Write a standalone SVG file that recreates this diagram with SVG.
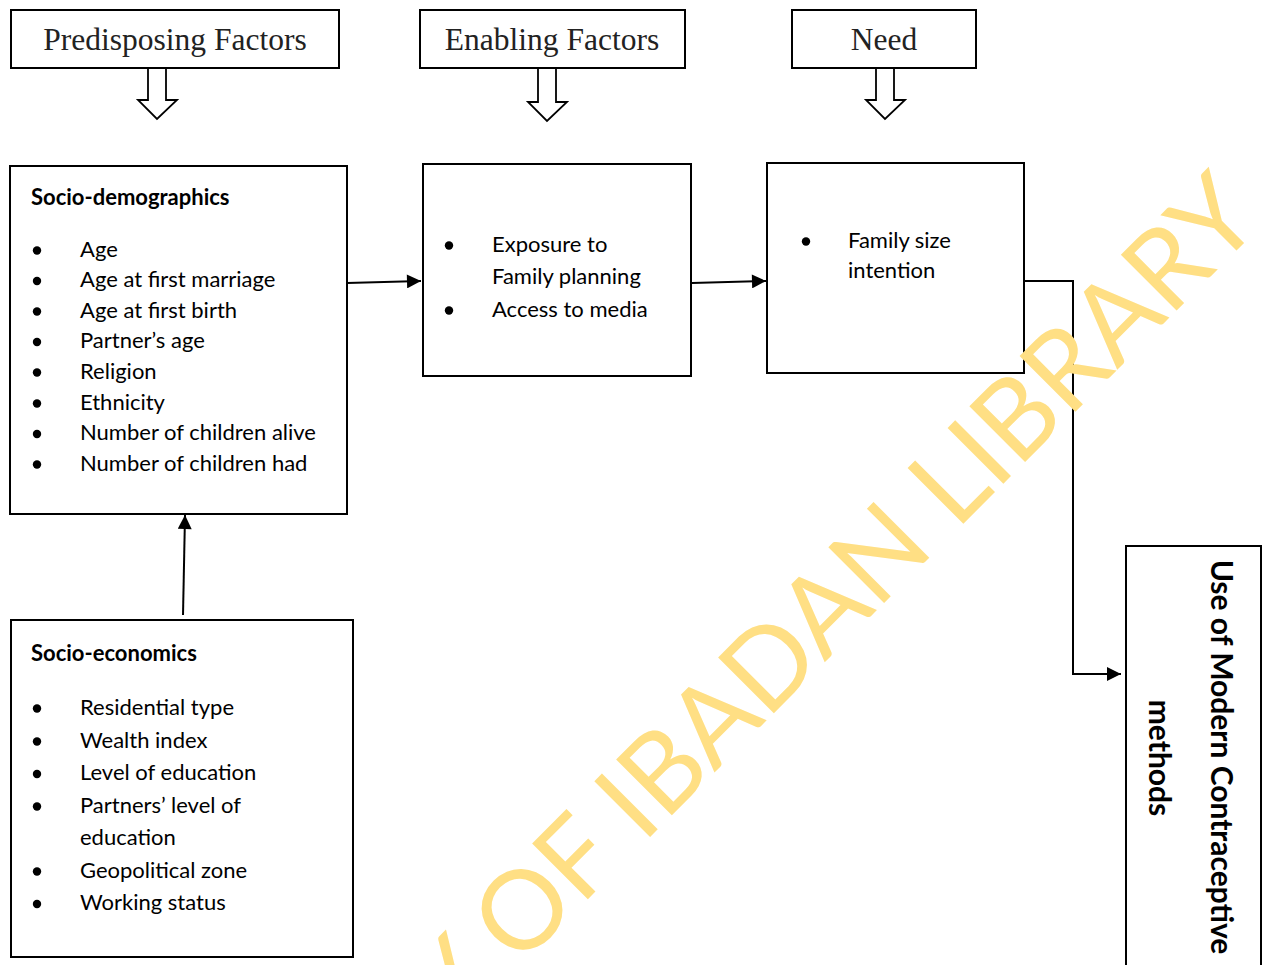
<svg xmlns="http://www.w3.org/2000/svg" width="1262" height="965" viewBox="0 0 1262 965">
<defs>
<style>
.box{fill:#fff;stroke:#000;stroke-width:2}
.hollow{fill:#fff;stroke:#000;stroke-width:1.8;stroke-linejoin:miter}
.title{font-family:"Liberation Serif","Times New Roman",serif;font-size:31.5px;fill:#222;text-anchor:middle}
.t{font-family:Lato,"Open Sans",sans-serif;font-size:22px;fill:#000}
.b{font-family:Lato,"Open Sans",sans-serif;font-size:22px;font-weight:bold;fill:#000}
.rot{font-family:Lato,"Open Sans",sans-serif;font-size:30px;font-weight:bold;fill:#000;text-anchor:middle}
.dot{fill:#000}
.conn{fill:none;stroke:#000;stroke-width:2}
.wm{font-family:Lato,"Open Sans",sans-serif;font-size:110px;fill:#FFDF84}
</style>
<marker id="ah" viewBox="0 0 10 10" refX="10" refY="5" markerWidth="8" markerHeight="7" markerUnits="strokeWidth" orient="auto">
<path d="M0,0 L10,5 L0,10 Z" fill="#000"/>
</marker>
</defs>
<rect width="1262" height="965" fill="#fff"/>

<g id="predisposing">
<rect class="box" x="11" y="10" width="328" height="58"/>
<text class="title" x="175" y="50">Predisposing Factors</text>
<polygon class="hollow" points="148,68 166,68 166,100 177,100 157,119 138,100 148,100"/>
</g>

<g id="enabling">
<rect class="box" x="420" y="10" width="265" height="58"/>
<text class="title" x="552" y="50">Enabling Factors</text>
<polygon class="hollow" points="538,68 556,68 556,102 567,102 547,121 528,102 538,102"/>
</g>

<g id="need">
<rect class="box" x="792" y="10" width="184" height="58"/>
<text class="title" x="884" y="50">Need</text>
<polygon class="hollow" points="876,68 894,68 894,100 905,100 885,119 866,100 876,100"/>
</g>

<g id="socio-demographics">
<rect class="box" x="10" y="166" width="337" height="348"/>
<text class="b" x="31" y="205">Socio-demographics</text>
<circle class="dot" cx="37" cy="250.5" r="4.2"/><text class="t" x="80" y="257">Age</text>
<circle class="dot" cx="37" cy="281" r="4.2"/><text class="t" x="80" y="287">Age at first marriage</text>
<circle class="dot" cx="37" cy="311.5" r="4.2"/><text class="t" x="80" y="318">Age at first birth</text>
<circle class="dot" cx="37" cy="342" r="4.2"/><text class="t" x="80" y="348">Partner’s age</text>
<circle class="dot" cx="37" cy="372.5" r="4.2"/><text class="t" x="80" y="379">Religion</text>
<circle class="dot" cx="37" cy="403.5" r="4.2"/><text class="t" x="80" y="410">Ethnicity</text>
<circle class="dot" cx="37" cy="434" r="4.2"/><text class="t" x="80" y="440">Number of children alive</text>
<circle class="dot" cx="37" cy="464.5" r="4.2"/><text class="t" x="80" y="471">Number of children had</text>
</g>

<g id="socio-economics">
<rect class="box" x="11" y="620" width="342" height="337"/>
<text class="b" x="31" y="661">Socio-economics</text>
<circle class="dot" cx="37" cy="708.5" r="4.2"/><text class="t" x="80" y="715">Residential type</text>
<circle class="dot" cx="37" cy="741.5" r="4.2"/><text class="t" x="80" y="748">Wealth index</text>
<circle class="dot" cx="37" cy="774" r="4.2"/><text class="t" x="80" y="780">Level of education</text>
<circle class="dot" cx="37" cy="806.5" r="4.2"/><text class="t" x="80" y="813">Partners’ level of</text>
<text class="t" x="80" y="845">education</text>
<circle class="dot" cx="37" cy="871.5" r="4.2"/><text class="t" x="80" y="878">Geopolitical zone</text>
<circle class="dot" cx="37" cy="904" r="4.2"/><text class="t" x="80" y="910">Working status</text>
</g>

<g id="enabling-box">
<rect class="box" x="423" y="164" width="268" height="212"/>
<circle class="dot" cx="449" cy="245.5" r="4.2"/><text class="t" x="492" y="252">Exposure to</text>
<text class="t" x="492" y="284">Family planning</text>
<circle class="dot" cx="449" cy="310.5" r="4.2"/><text class="t" x="492" y="317">Access to media</text>
</g>

<g id="need-box">
<rect class="box" x="767" y="163" width="257" height="210"/>
<circle class="dot" cx="806" cy="241.5" r="4.2"/><text class="t" x="848" y="248">Family size</text>
<text class="t" x="848" y="278">intention</text>
</g>

<g id="outcome">
<rect class="box" x="1126" y="546" width="135" height="440"/>
<text class="rot" transform="translate(1211,757) rotate(90)">Use of Modern Contraceptive</text>
<text class="rot" transform="translate(1149,758) rotate(90)">methods</text>
</g>

<g id="connectors">
<path class="conn" d="M347,283 L421,281" marker-end="url(#ah)"/>
<path class="conn" d="M692,283 L766,281" marker-end="url(#ah)"/>
<path class="conn" d="M1024,281 L1073,281 L1073,674 L1121,674" marker-end="url(#ah)"/>
<path class="conn" d="M183,615 L185,515" marker-end="url(#ah)"/>
</g>

<g id="watermark">
<text class="wm" transform="translate(59,1428) rotate(-45)" textLength="1705" lengthAdjust="spacing">UNIVERSITY OF IBADAN LIBRARY</text>
</g>
</svg>
